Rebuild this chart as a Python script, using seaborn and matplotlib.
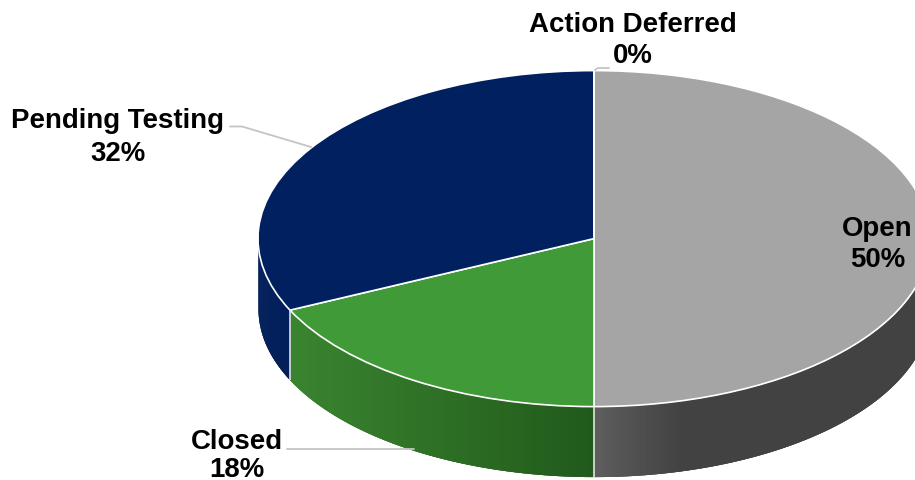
import numpy as np
import matplotlib
matplotlib.use("Agg")
import matplotlib.pyplot as plt
import seaborn as sns

categories = ["Open", "Closed", "Pending Testing", "Action Deferred"]
values = [50, 18, 32, 0]
value_labels = ["50%", "18%", "32%", "0%"]
top_colors = ["#a5a5a5", "#3f9a37", "#002060", "#7f7f7f"]
side_near = ["#5f5f5f", "#215a1b", "#001e5a", "#7f7f7f"]   # colour at the front of the wall
side_far = ["#424242", "#3a8430", "#001e5a", "#7f7f7f"]    # colour away from the front

W, H = 915, 481
CX, CY, RX, RY, DEPTH = 594, 239.6, 336, 168, 70

sns.set_theme(style="white")
plt.rcParams["font.family"] = ["Liberation Sans", "DejaVu Sans"]
sns.set_palette(top_colors)

fig = plt.figure(figsize=(W / 100, H / 100), dpi=100, facecolor="white")
ax = fig.add_axes([0, 0, 1, 1])

ax.pie(values, colors=sns.color_palette(n_colors=len(values)), startangle=90,
       counterclock=False, radius=1, center=(0, 0),
       wedgeprops=dict(edgecolor="white", linewidth=1.2, zorder=3))
ax.set_aspect("auto")
ax.set_xlim(-CX / RX, (W - CX) / RX)
ax.set_ylim((CY - H) / RY, CY / RY)
ax.axis("off")

depth = DEPTH / RY
fractions = np.array(values, dtype=float) / np.sum(values)
edges = 90 - 360 * np.concatenate([[0], np.cumsum(fractions)])


def mix(a, b, t):
    a, b = np.array(matplotlib.colors.to_rgb(a)), np.array(matplotlib.colors.to_rgb(b))
    return a + (b - a) * t


for i, name in enumerate(categories):
    low = min(edges[i], 0)
    high = max(edges[i + 1], -180)
    if low <= high:
        continue
    angles = np.radians(np.linspace(low, high, 240))
    xs_all, ys_all = np.cos(angles), np.sin(angles)
    # paint along the wall; each strip overlaps the next to avoid seams
    for j in range(len(angles) - 1):
        stop = min(j + 4, len(angles))
        xs, ys = xs_all[j:stop], ys_all[j:stop]
        xm = xs_all[j:j + 2].mean()
        if name == "Open":
            t = np.clip(xm / 0.26, 0, 1) ** 0.9
        elif name == "Closed":
            t = np.clip(-xm / 0.905, 0, 1)
        else:
            t = 0
        col = mix(side_near[i], side_far[i], t)
        order = np.argsort(xs)
        ax.fill_between(xs[order], ys[order] - depth, ys[order], color=col,
                        linewidth=0, zorder=2)

# vertical seams of the side wall, at slice boundaries facing the viewer
for e in edges[[1, 2]]:
    a = np.radians(e)
    ax.plot([np.cos(a)] * 2, [np.sin(a), np.sin(a) - depth], color="#e4e4e4",
            lw=1.2, zorder=4, solid_capstyle="butt")


def label(i, x, y1, y2):
    for text, y in ((categories[i], y1), (value_labels[i], y2)):
        fig.text(x / W, 1 - y / H, text, ha="center", va="baseline",
                 fontsize=19.9, fontweight="bold", color="black", zorder=6)


label(0, 877.5, 235.7, 267.3)
label(1, 236.5, 448.7, 477.5)
label(2, 118, 127.5, 161)
label(3, 633, 31.5, 62.7)

leaders = [
    ([230, 242, 311], [127.5, 127.5, 148]),
    ([287, 414], [449.5, 449.5]),
    ([595, 598, 609], [71, 69, 69]),
]
for lx, ly in leaders:
    fx = [v / W for v in lx]
    fy = [1 - v / H for v in ly]
    fig.add_artist(plt.Line2D(fx, fy, color="#c4c4c4", lw=1.3, zorder=1))

fig.savefig("out.png", dpi=100, facecolor="white")
